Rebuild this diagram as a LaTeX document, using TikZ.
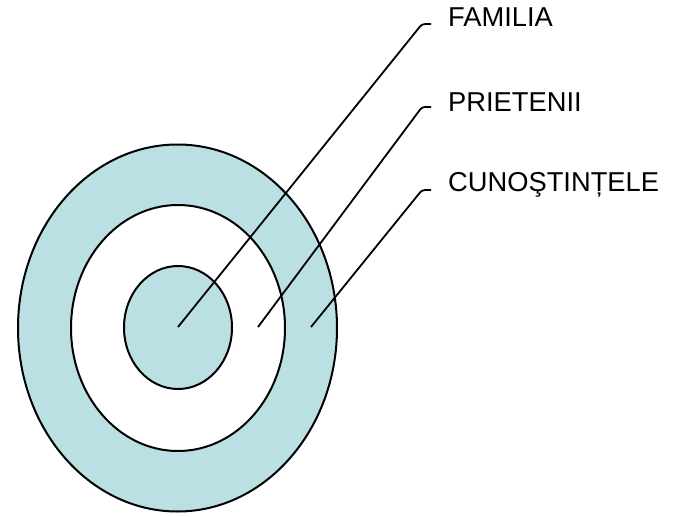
\documentclass[tikz,border=0pt]{standalone}
\usepackage{fontspec}
\setmainfont{Liberation Sans}
\usetikzlibrary{shapes.geometric}
\definecolor{ringfill}{RGB}{187,224,227}
\tikzset{
  ring/.style={ellipse, draw=black, line width=2pt, inner sep=0pt},
  lbl/.style={anchor=base west, inner sep=0pt, font=\fontsize{27.3}{31}\selectfont},
  leader/.style={draw=black, line width=1.8pt, rounded corners=3pt}
}
\begin{document}
\begin{tikzpicture}[x=1pt,y=-1pt]
\useasboundingbox (0,0) rectangle (679,516);
\node[ring, fill=ringfill, minimum width=319pt, minimum height=367pt] (outer) at (177.5,328) {};
\node[ring, fill=white, minimum width=214pt, minimum height=246pt] (middle) at (178,328) {};
\node[ring, fill=ringfill, minimum width=108pt, minimum height=123pt] (inner) at (178,327.5) {};
\coordinate (pfam) at (178,327);
\coordinate (ppri) at (258,327);
\coordinate (pcun) at (311,327);
\coordinate (kfam) at (422,24);
\coordinate (kpri) at (422,107);
\coordinate (kcun) at (422,190);
\coordinate (efam) at (431,24);
\coordinate (epri) at (431,107);
\coordinate (ecun) at (431,190);
\node[lbl] (fam) at (448,27) {FAMILIA};
\node[lbl] (pri) at (448,111) {PRIETENII};
\node[lbl] (cun) at (448,191.5) {CUNOŞTINȚELE};
\draw[leader] (pfam) -- (kfam) -- (efam);
\draw[leader] (ppri) -- (kpri) -- (epri);
\draw[leader] (pcun) -- (kcun) -- (ecun);
\end{tikzpicture}
\end{document}
